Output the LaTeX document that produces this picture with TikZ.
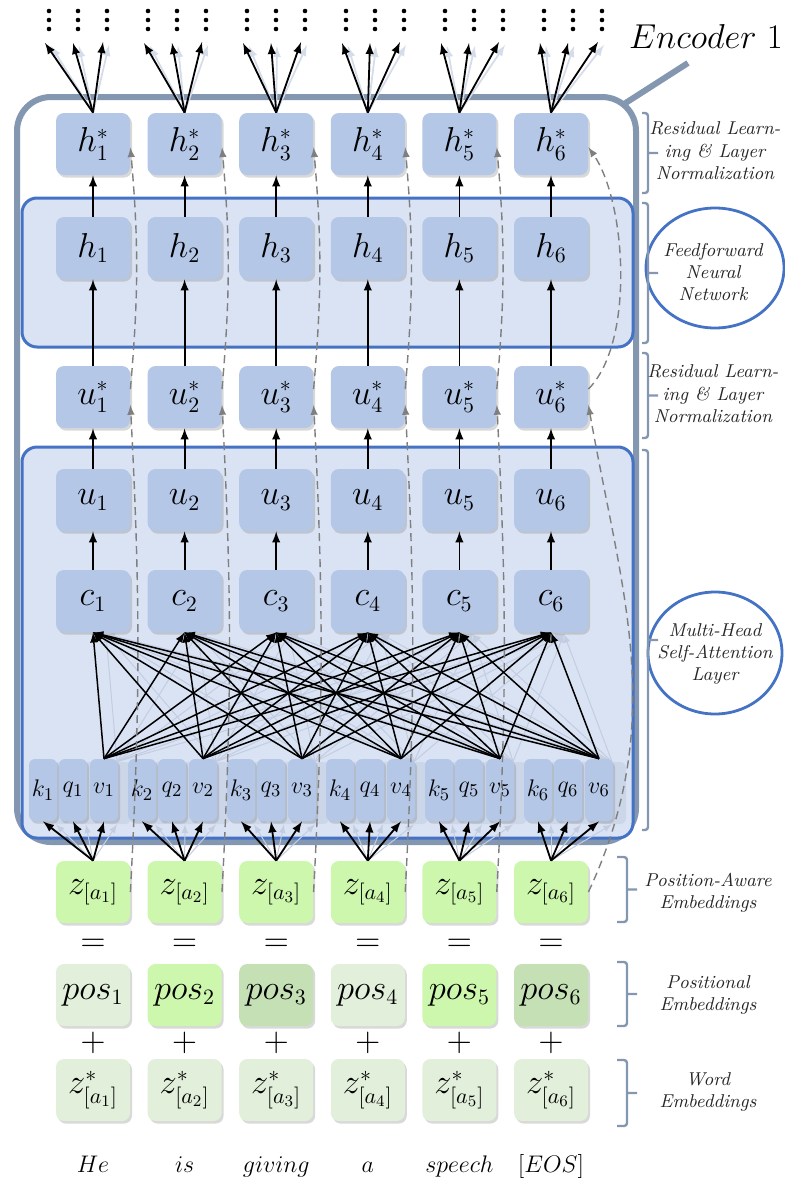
\documentclass[tikz,border=0pt]{standalone}
\usepackage{amsmath}
\usepackage{tikz}
\usetikzlibrary{arrows,shadows}

\definecolor{boxblue}{HTML}{B4C7E7}
\definecolor{layerblue}{HTML}{DAE3F3}
\definecolor{lineblue}{HTML}{4472C4}
\definecolor{framegray}{HTML}{8497B0}
\definecolor{zgreen}{HTML}{CCF7AC}
\definecolor{palegreen}{HTML}{E2EFDA}
\definecolor{darkgreen}{HTML}{C5E0B4}
\definecolor{ghostbox}{HTML}{CCD6E9}
\definecolor{ghostline}{HTML}{C3CDE1}
\definecolor{ghosttop}{HTML}{D6DDEA}
\definecolor{residgray}{HTML}{7F7F7F}
\definecolor{labeltext}{HTML}{262626}

\begin{document}
\begin{tikzpicture}[x=0.5pt,y=-0.5pt,
    blk/.style={fill=boxblue,rounded corners=4pt,minimum width=37pt,minimum height=31pt,inner sep=0pt,
      font=\fontsize{16}{18}\selectfont,drop shadow={shadow xshift=1pt,shadow yshift=-1.3pt,opacity=0.3}},
    grn/.style={blk,fill=#1},
    kqv/.style={blk,minimum width=14pt,rounded corners=3pt,font=\fontsize{13}{15}\selectfont},
    ghost/.style={fill=ghostbox,rounded corners=3pt,minimum width=14pt,minimum height=31pt,inner sep=0pt},
    lyr/.style={draw=lineblue,line width=1.5pt,fill=layerblue,rounded corners=7.5pt},
    arr/.style={-latex,line width=0.9pt},
    fan/.style={-latex,line width=0.75pt},
    gline/.style={-latex,line width=0.5pt,draw=ghostline},
    resid/.style={-latex,draw=residgray,line width=0.7pt,dash pattern=on 4pt off 2.5pt},
    brk/.style={draw=framegray,line width=1.2pt,rounded corners=1.5pt},
    lbl/.style={align=center,font=\fontsize{9.3}{11.2}\selectfont\itshape,text=labeltext,inner sep=0pt},
    oval/.style={draw=lineblue,line width=1.4pt,fill=white}]
\useasboundingbox (0,0) rectangle (785,1183);

% encoder frame
\draw[framegray,line width=3pt,rounded corners=17pt,fill=white] (17,97) rectangle (636,842);
\coordinate (encorner) at (624,104);
\coordinate (enctip) at (688,63);
\draw[framegray,line width=3pt] (encorner) -- (enctip);
\node[inner sep=0pt,font=\fontsize{17}{20}\selectfont] (enc) at (706,36) {$Encoder~1$};

% feedforward and attention layers
\draw[lyr] (22,198) rectangle (633,347);
\draw[lyr] (22,447) rectangle (633,838);

% ghost heads behind the keys, queries, values
\foreach \i [evaluate=\i as \x using {93+91.6*(\i-1)}, evaluate=\i as \qx using {73+99*(\i-1)}] in {1,...,6}{
  \node[ghost] (gk\i) at (\qx-17,793) {};
  \node[ghost] (gq\i) at (\qx+13,793) {};
  \node[ghost] (gv\i) at (\qx+44,793) {};
  \coordinate (gc\i) at (\x+13,634);
  \node[grn=zgreen] (z\i) at (\x,892) {$z_{[a_{\i}]}$};
}
\foreach \i in {1,...,6}{
  \foreach \j in {1,...,6} \draw[gline] (gv\i.north) -- (gc\j);
  \draw[gline] (z\i.north) -- (gk\i.south);
  \draw[gline] (z\i.north) -- (gq\i.south);
  \draw[gline] (z\i.north) -- (gv\i.south);
}

% columns
\foreach \i/\pc [evaluate=\i as \x using {93+91.6*(\i-1)}, evaluate=\i as \qx using {73+99*(\i-1)}]
    in {1/palegreen,2/zgreen,3/darkgreen,4/palegreen,5/zgreen,6/darkgreen}{
  \node[kqv] (k\i) at (\qx-30,790) {$k_{\i}$};
  \node[kqv] (q\i) at (\qx,790) {$q_{\i}$};
  \node[kqv] (v\i) at (\qx+31,790) {$v_{\i}$};
  \node[blk] (c\i) at (\x,601) {$c_{\i}$};
  \node[blk] (u\i) at (\x,500) {$u_{\i}$};
  \node[blk] (us\i) at (\x,397) {$u_{\i}^{*}$};
  \node[blk] (h\i) at (\x,248) {$h_{\i}$};
  \node[blk] (hs\i) at (\x,144) {$h_{\i}^{*}$};
  \node[font=\fontsize{16}{18}\selectfont] (eq\i) at (\x,945) {$=$};
  \node[grn=\pc] (pos\i) at (\x,995) {$pos_{\i}$};
  \node[font=\fontsize{16}{18}\selectfont] (plus\i) at (\x,1043) {$+$};
  \node[grn=palegreen] (zs\i) at (\x,1090) {$z_{[a_{\i}]}^{*}$};
  \coordinate (tk\i) at (\qx-28,43);
  \coordinate (tq\i) at (\qx,43);
  \coordinate (tv\i) at (\qx+30,42);
  \coordinate (gtk\i) at (\qx-22,46);
  \coordinate (gtq\i) at (\qx+6,46);
  \coordinate (gtv\i) at (\qx+36,45);
}
\foreach \i/\w [evaluate=\i as \x using {93+91.6*(\i-1)}] in {1/He,2/is,3/giving,4/a,5/speech,6/{[EOS]}}
  \node[anchor=base,font=\fontsize{13}{15}\selectfont] (w\i) at (\x,1172) {$\w$};

% connections
\foreach \i in {1,...,6}{
  \draw[arr] (z\i.north) -- (k\i.south);
  \draw[arr] (z\i.north) -- (q\i.south);
  \draw[arr] (z\i.north) -- (v\i.south);
  \foreach \j in {1,...,6} \draw[fan] (v\i.north) -- (c\j.south);
  \draw[arr] (c\i) -- (u\i);
  \draw[arr] (u\i) -- (us\i);
  \draw[arr] (us\i) -- (h\i);
  \draw[arr] (h\i) -- (hs\i);
  \draw[gline,line width=0.9pt,draw=ghosttop] (hs\i.north) -- (gtk\i);
  \draw[gline,line width=0.9pt,draw=ghosttop] (hs\i.north) -- (gtq\i);
  \draw[gline,line width=0.9pt,draw=ghosttop] (hs\i.north) -- (gtv\i);
  \draw[arr] (hs\i.north) -- (tk\i);
  \draw[arr] (hs\i.north) -- (tq\i);
  \draw[arr] (hs\i.north) -- (tv\i);
  % residual shortcuts
  \ifnum\i<6
    \draw[resid] (z\i.east) to[out=87,in=-87] (us\i.-12);
    \draw[resid] (us\i.12) to[out=85,in=-85] (hs\i.-5);
  \else
    \draw[resid] (z\i.east) to[out=65,in=-80] (us\i.-12);
    \draw[resid] (us\i.12) to[out=45,in=-55,looseness=0.7] (hs\i.-5);
  \fi
}
% next encoder
\foreach \i [evaluate=\i as \qx using {73+99*(\i-1)}] in {1,...,6}
  \foreach \d in {-24,5,34}
    \foreach \yy in {11,20,29}
      \fill (\qx+\d,\yy) circle (2.3);

% side notes
\draw[oval] (715,268) ellipse (69 and 60);
\draw[oval] (715,653) ellipse (67 and 61);
\foreach \ya/\yb/\xa/\xb in {113/193/642/648, 203/343/642/648, 353/438/642/648, 450/830/642/648,
    857/922/617/627, 962/1026/617/627, 1060/1126/617/627}
  \draw[brk] (\xa,\ya) -- (\xb,\ya) -- (\xb,\yb) -- (\xa,\yb) (\xb,{(\ya+\yb)/2}) -- (\xb+10,{(\ya+\yb)/2});
\node[lbl] (rl1) at (715,151) {Residual Learn-\\ing \& Layer\\Normalization};
\node[lbl] (ffn) at (713,272) {Feedforward\\Neural\\Network};
\node[lbl] (rl2) at (713,394) {Residual Learn-\\ing \& Layer\\Normalization};
\node[lbl] (mha) at (715,654) {Multi-Head\\Self-Attention\\Layer};
\node[lbl] (pae) at (708,893) {Position-Aware\\Embeddings};
\node[lbl] (pe) at (708,995) {Positional\\Embeddings};
\node[lbl] (we) at (708,1092) {Word\\Embeddings};
\end{tikzpicture}
\end{document}
